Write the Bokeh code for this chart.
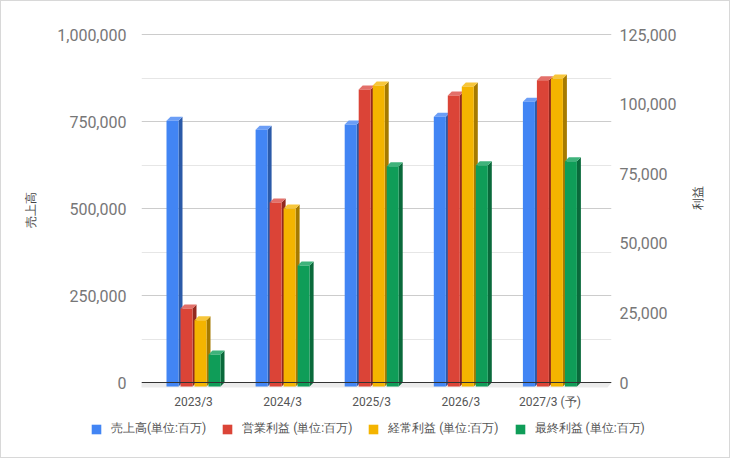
import math
from bokeh.plotting import figure
from bokeh.layouts import column
from bokeh.models import Range1d, LinearAxis, FixedTicker, Legend, LegendItem, NumeralTickFormatter
from bokeh.embed import file_html
from bokeh.resources import INLINE

# ---------------- data ----------------
categories = ["2023/3", "2024/3", "2025/3", "2026/3", "2027/3 (予)"]
sales = [764000, 738000, 753000, 775000, 818000]
operating = [28000, 66100, 106700, 104500, 110000]
ordinary = [23800, 63900, 108100, 107800, 110600]
net_income = [11500, 43500, 79100, 79500, 80900]
series_names = ["売上高(単位:百万)", "営業利益 (単位:百万)", "経常利益 (単位:百万)", "最終利益 (単位:百万)"]
left_ticks = [0, 250000, 500000, 750000, 1000000]
left_minor = [125000, 375000, 625000, 875000]
right_ticks = [0, 25000, 50000, 75000, 100000, 125000]
left_title = "売上高"
right_title = "利益"

# ---------------- styles ----------------
front_colors = ["#4285f4", "#db4437", "#f4b400", "#0f9d58"]
side_colors = ["#2b5aa8", "#93291f", "#a67a00", "#0a6a3b"]
top_colors = ["#6c9ef6", "#e3706a", "#f7c63a", "#3fb37b"]

FIG_W = 728
FRAME_W, FRAME_H = 470, 360
CAT_PX = 89.1
FIRST_CAT_PX = 52.0        # centre of first category from frame left
ZERO_PX = 353.0            # zero line from frame top
TOP_PX = 5.0               # top tick from frame top
BAR_W_PX, PITCH_PX, DEPTH_PX = 12.0, 14.0, 4.0

x_start = -FIRST_CAT_PX / CAT_PX
x_end = x_start + FRAME_W / CAT_PX
ppx_l = left_ticks[-1] / (ZERO_PX - TOP_PX)
ppx_r = right_ticks[-1] / (ZERO_PX - TOP_PX)
yl_start = -(FRAME_H - ZERO_PX) * ppx_l
yl_end = left_ticks[-1] + TOP_PX * ppx_l
yr_start = -(FRAME_H - ZERO_PX) * ppx_r
yr_end = right_ticks[-1] + TOP_PX * ppx_r

p = figure(width=FIG_W, height=412, output_backend="svg", toolbar_location=None,
           x_range=Range1d(x_start, x_end), y_range=Range1d(yl_start, yl_end),
           min_border_left=140, min_border_right=118, min_border_top=28, min_border_bottom=24)
p.outline_line_color = None
p.background_fill_color = "white"
p.border_fill_color = "white"
try:
    p.frame_align = False
except Exception:
    pass

p.extra_y_ranges = {"profit": Range1d(yr_start, yr_end)}

# grid
p.xgrid.visible = False
p.ygrid.ticker = FixedTicker(ticks=left_ticks, minor_ticks=left_minor)
p.ygrid.grid_line_color = "#cccccc"
p.ygrid.minor_grid_line_color = "#e6e6e6"

def style_axis(ax, standoff):
    ax.axis_line_color = None
    ax.major_tick_line_color = None
    ax.minor_tick_line_color = None
    ax.major_tick_out = 0
    ax.major_tick_in = 0
    ax.minor_tick_out = 0
    ax.minor_tick_in = 0
    ax.major_label_standoff = standoff

# left axis
ax_l = p.left[0]
ax_l.ticker = FixedTicker(ticks=left_ticks)
ax_l.formatter = NumeralTickFormatter(format="0,0")
style_axis(ax_l, 15)
ax_l.major_label_text_font = "Roboto"
ax_l.major_label_text_font_size = "16px"
ax_l.major_label_text_color = "#777777"
ax_l.axis_label = left_title
ax_l.axis_label_text_font = "Roboto"
ax_l.axis_label_text_font_size = "12px"
ax_l.axis_label_text_font_style = "normal"
ax_l.axis_label_text_color = "#444444"
ax_l.axis_label_standoff = 16

# right axis
ax_r = LinearAxis(y_range_name="profit", ticker=FixedTicker(ticks=right_ticks),
                  formatter=NumeralTickFormatter(format="0,0"))
style_axis(ax_r, 8)
ax_r.major_label_text_font = "Roboto"
ax_r.major_label_text_font_size = "16px"
ax_r.major_label_text_color = "#777777"
ax_r.axis_label = right_title
ax_r.axis_label_text_font = "Roboto"
ax_r.axis_label_text_font_size = "12px"
ax_r.axis_label_text_font_style = "normal"
ax_r.axis_label_text_color = "#444444"
ax_r.axis_label_standoff = 18
try:
    ax_r.axis_label_orientation = math.pi / 2
except Exception:
    pass
p.add_layout(ax_r, "right")

# x axis
ax_x = p.below[0]
ax_x.ticker = FixedTicker(ticks=list(range(len(categories))))
ax_x.major_label_overrides = {i: c for i, c in enumerate(categories)}
style_axis(ax_x, 5)
ax_x.major_label_text_font = "Roboto"
ax_x.major_label_text_font_size = "12px"
ax_x.major_label_text_color = "#555555"

# floor and zero line
dx = DEPTH_PX / CAT_PX
floor_dy = 5 * ppx_l
p.patch([x_start, x_end, x_end - dx, x_start - dx], [0, 0, -floor_dy, -floor_dy],
        fill_color="#ebebeb", line_color=None)

# bars
bw = BAR_W_PX / CAT_PX
pitch = PITCH_PX / CAT_PX
all_series = [sales, operating, ordinary, net_income]
front_data = []
for j, vals in enumerate(all_series):
    rng = "default" if j == 0 else "profit"
    dy = DEPTH_PX * (ppx_l if j == 0 else ppx_r)
    lefts, rights, bottoms, tops = [], [], [], []
    side_xs, side_ys, top_xs, top_ys = [], [], [], []
    for i, v in enumerate(vals):
        xc = i + (j - 1.5) * pitch
        l, r = xc - bw / 2, xc + bw / 2
        lefts.append(l); rights.append(r); bottoms.append(-dy); tops.append(v - dy)
        side_xs.append([r, r + dx, r + dx, r]); side_ys.append([-dy, 0, v, v - dy])
        top_xs.append([l, l + dx, r + dx, r]); top_ys.append([v - dy, v, v, v - dy])
    p.patches(side_xs, side_ys, fill_color=side_colors[j], line_color=None, y_range_name=rng)
    p.patches(top_xs, top_ys, fill_color=top_colors[j], line_color=None, y_range_name=rng)
    p.quad(left=lefts, right=rights, bottom=bottoms, top=tops,
           fill_color=front_colors[j], line_color=None, y_range_name=rng)
    front_data.append((lefts, rights, bottoms, tops))

p.line([x_start, x_end], [0, 0], line_color="#333333", line_width=1)

# ---------------- legend strip ----------------
LEG_H = 44
# view window placed away from the bars so the legend's own renderers stay out of sight
p2 = figure(width=FIG_W, height=LEG_H, output_backend="svg", toolbar_location=None,
            x_axis_type=None, y_axis_type=None,
            x_range=Range1d(len(categories) * 10, len(categories) * 10 + 1), y_range=Range1d(0, 1),
            min_border=0, min_border_left=0, min_border_right=0,
            min_border_top=0, min_border_bottom=0)
p2.outline_line_color = None
p2.grid.visible = False
p2.background_fill_color = "white"
p2.border_fill_color = "white"
try:
    p2.frame_align = False
except Exception:
    pass

legend_items = []
for j, name in enumerate(series_names):
    lefts, rights, bottoms, tops = front_data[j]
    r = p2.quad(left=lefts, right=rights, bottom=bottoms, top=tops,
                fill_color=front_colors[j], line_color=None)
    legend_items.append(LegendItem(label=name, renderers=[r]))

legend = Legend(items=legend_items, location=(89, 20), orientation="horizontal",
                padding=0, margin=0, spacing=15, label_standoff=9,
                glyph_width=12, glyph_height=12, label_height=12, label_width=10,
                border_line_color=None, background_fill_alpha=0,
                label_text_font="Roboto", label_text_font_size="12px",
                label_text_color="#555555")
p2.add_layout(legend)

layout = column(p, p2, spacing=0)
try:
    layout.styles = {"border": "1px solid #d8d8d8"}
except Exception:
    pass

open("out.html", "w").write(file_html(layout, INLINE))
